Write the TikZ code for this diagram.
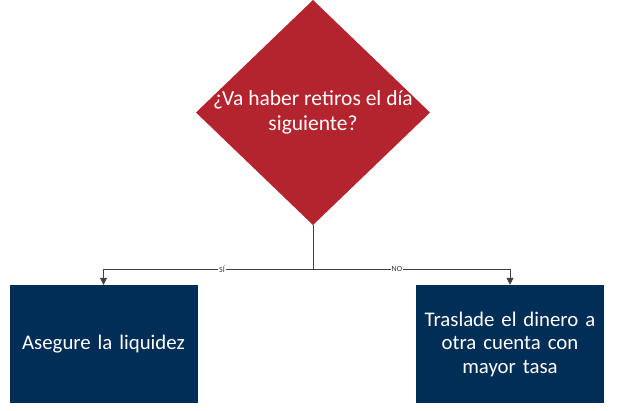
\documentclass[tikz,border=0pt]{standalone}
\usepackage{fontspec}
\setmainfont{Carlito}
\usetikzlibrary{shapes.geometric,arrows.meta}
\definecolor{decred}{HTML}{B3242E}
\definecolor{actblue}{HTML}{002E57}
\tikzset{
  decision/.style={
    diamond,
    minimum width=234pt,
    minimum height=225pt,
    inner sep=0mm,
    outer sep=0mm,
    fill=decred
  },
  action/.style={
    rectangle,
    minimum width=188pt,
    minimum height=118pt,
    text width=182pt,
    align=center,
    inner sep=0mm,
    fill=actblue,
    text=white,
    font=\fontsize{20.8}{23.5}\selectfont
  },
  link/.style={
    draw=black!75,
    line width=0.8pt,
    -{Triangle[width=7pt,length=7pt]}
  },
  tag/.style={
    fill=white,
    inner sep=1pt,
    text=black!80,
    font=\fontsize{8}{9}\selectfont
  }
}

\begin{document}
\begin{tikzpicture}[x=1pt,y=-1pt]
    \useasboundingbox (0,0) rectangle (619,410);
    \node[decision,label={[text=white,align=center,font=\fontsize{21.5}{25}\selectfont]center:{¿Va haber retiros el día\\siguiente?}}] (q) at (313,112.5) {};
    \node[action] (yes) at (103.5,344) {Asegure la liquidez};
    \node[action] (no) at (510,344) {Traslade el dinero a\\otra cuenta con\\mayor tasa};
    \coordinate (fork) at (313,269);
    \draw[draw=black!75,line width=0.8pt] (q.south) -- (fork);
    \draw[link] (fork) -| node[tag,pos=0.217] {SÍ} (yes.north);
    \draw[link] (fork) -| node[tag,pos=0.213] {NO} (no.north);
\end{tikzpicture}
\end{document}
